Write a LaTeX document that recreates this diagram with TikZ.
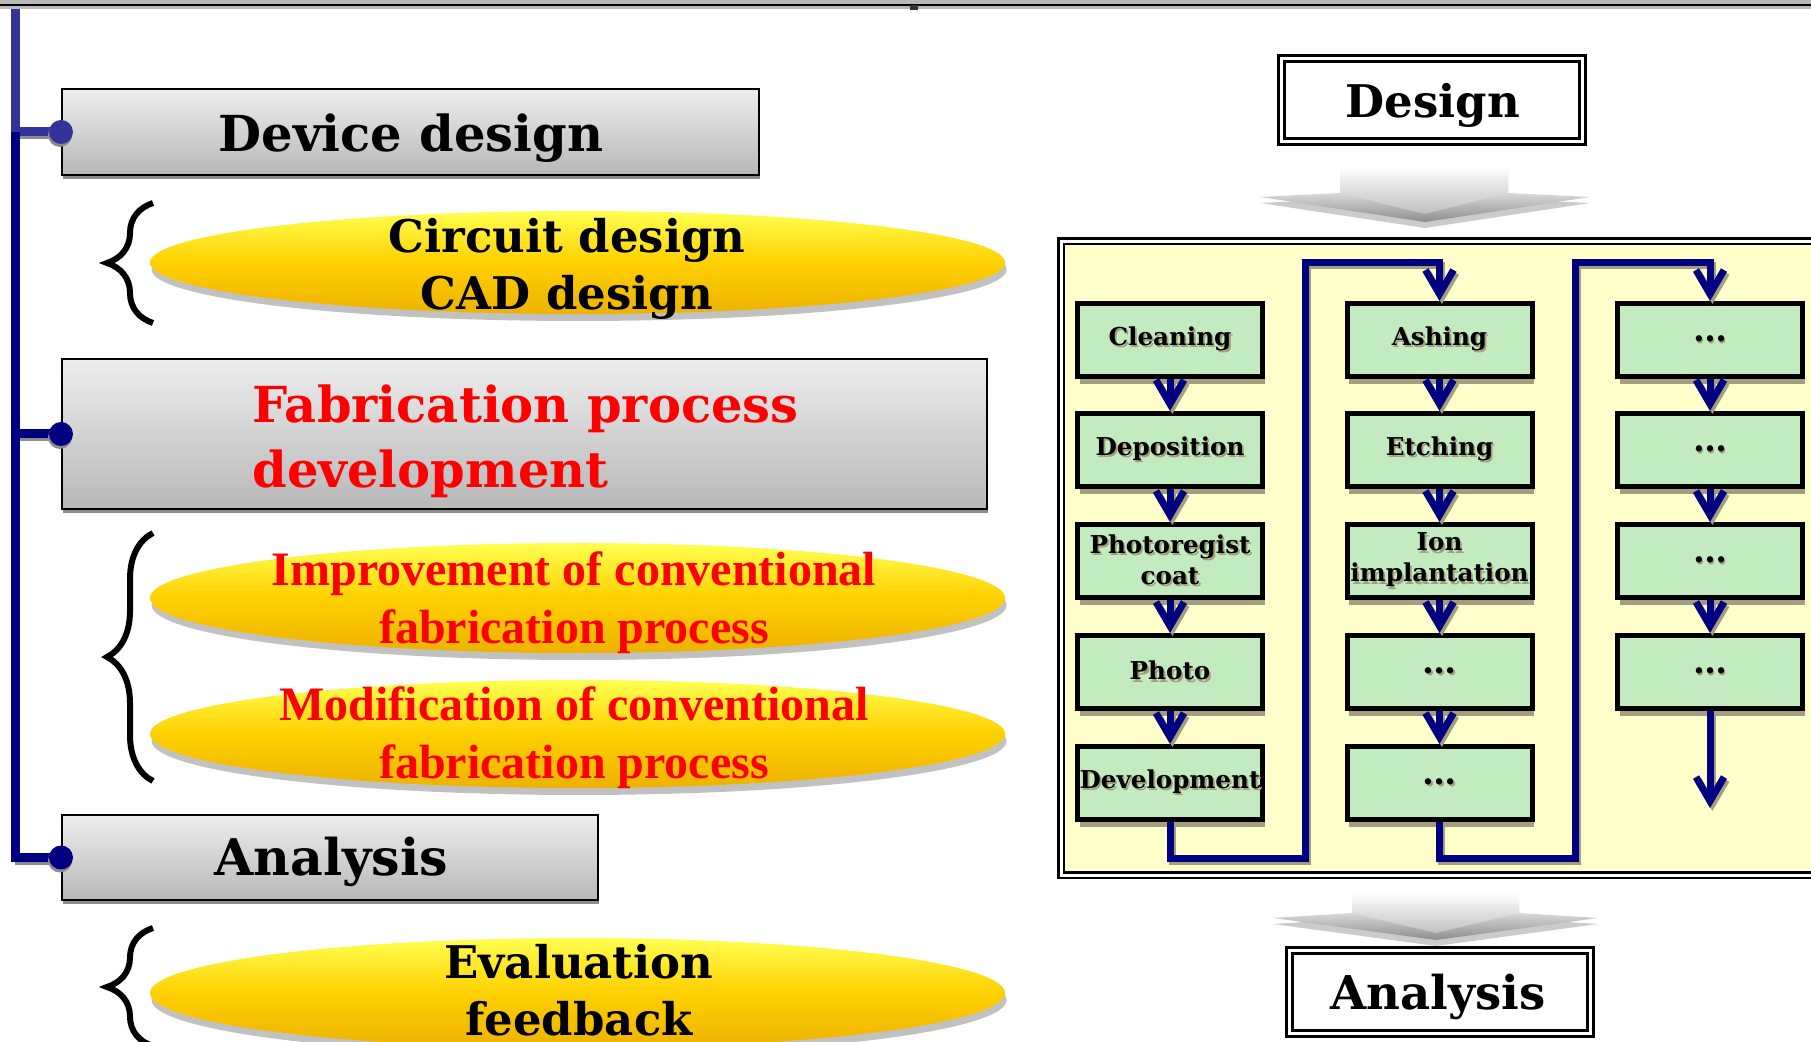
\documentclass[tikz,border=0pt]{standalone}
\usepackage{fontspec}
\setmainfont{DejaVu Serif}
\newfontfamily\timesfont{Liberation Serif}
\usetikzlibrary{arrows.meta,shadows,decorations.pathreplacing,shapes.geometric,calc}
\definecolor{navyc}{HTML}{000080}
\definecolor{bluec}{HTML}{333399}
\definecolor{panelc}{HTML}{FFFFCC}
\definecolor{greenc}{HTML}{C2EBBF}
\definecolor{olivesh}{HTML}{A39F7E}
\definecolor{redc}{HTML}{FF0000}
\definecolor{yla}{HTML}{FFFF50}
\definecolor{ylb}{HTML}{FFD000}
\definecolor{ylc}{HTML}{EDB200}
\newcommand{\txsh}[1]{\leavevmode\rlap{\kern0.9pt\raisebox{-1.2pt}{\color{olivesh}#1}}#1}
\newcommand{\mydots}{{\fontsize{17}{17}\selectfont …}}
\begin{document}
\begin{tikzpicture}[x=0.5pt,y=-0.5pt,
  graybox/.style={draw=black, line width=1pt, top color=black!7, bottom color=black!28, inner sep=0pt,
    drop shadow={shadow xshift=0.3pt, shadow yshift=-2.2pt, fill=black!45, opacity=1}},
  yellipse/.style={ellipse, draw=none, top color=yla, bottom color=ylc, middle color=ylb,
    minimum width=427.5pt, inner sep=0pt,
    drop shadow={shadow xshift=0.8pt, shadow yshift=-3.5pt, fill=black!40, opacity=.6}},
  bigtxt/.style={font=\fontsize{24.8}{32.5}\selectfont\bfseries},
  midtxt/.style={font=\fontsize{22.5}{28.5}\selectfont\bfseries},
  redtxt/.style={font=\timesfont\fontsize{24}{29}\selectfont\bfseries, text=redc},
  dbox/.style={draw=black, line width=1.5pt, double=white, double distance=1.5pt, fill=white,
    minimum width=150.5pt, minimum height=41.5pt, inner sep=0pt},
  gbox/.style={draw=black, line width=2.5pt, fill=greenc, minimum width=92.5pt, minimum height=36.5pt,
    inner sep=0pt, align=center, font=\fontsize{12.3}{15.5}\selectfont\bfseries,
    drop shadow={shadow xshift=1pt, shadow yshift=-3.6pt, fill=olivesh, opacity=1}},
  flow/.style={draw=navyc, line width=3.5pt, -{Straight Barb[length=12pt,width=14pt]}},
  flowsh/.style={draw=olivesh, line width=3.5pt, -{Straight Barb[length=12pt,width=14pt]},
    transform canvas={shift={(1.2pt,-1.5pt)}}},
  bracest/.style={draw=black, line width=3pt, decorate, decoration={brace, amplitude=23pt}},
  spine/.style={line width=4.5pt}
]
\useasboundingbox (0,0) rectangle (1811,1042);
\fill[white] (0,0) rectangle (1811,1042);
\begin{scope}
\clip (0,0) rectangle (1811,1042);

% top band
\fill[black!28] (0,0) rectangle (1811,9);
\draw[black, line width=1pt] (0,5) -- (1811,5);
\fill[black!80] (910,5) rectangle (918,10);

% left boxes
\node[graybox, minimum width=348.5pt, minimum height=43pt] (dd) at (410.5,132) {};
\node[anchor=base, bigtxt] (ddt) at (411,152) {Device design};

\node[graybox, minimum width=462.5pt, minimum height=75pt] (fb) at (524.5,434) {};
\node[anchor=west, align=left, inner sep=0pt, bigtxt, text=redc] (fbt) at (252,441) {Fabrication process\\development};

\node[graybox, minimum width=268pt, minimum height=42.5pt] (an) at (330,857.5) {};
\node[anchor=base, bigtxt, font=\fontsize{25.3}{30}\selectfont\bfseries] (ant) at (331,876) {Analysis};

% spine
\coordinate (sp) at (15,9);
\draw[spine, black!45, transform canvas={shift={(0pt,-1.5pt)}}] (sp |- dd.west) -- (dd.west);
\draw[spine, black!45, transform canvas={shift={(0pt,-1.5pt)}}] (sp |- fb.west) -- (fb.west);
\draw[spine, black!45, transform canvas={shift={(0pt,-1.5pt)}}] (sp |- an.west) -- (an.west);
\draw[spine, bluec] (sp) -- (sp |- dd.west) -- (dd.west);
\draw[spine, navyc] (sp |- dd.west) -- (sp |- an.west) -- (an.west);
\draw[spine, navyc] (sp |- fb.west) -- (fb.west);
\fill[black!45] ($(dd.west)+(-1,3)$) circle[radius=6pt];
\fill[black!45] ($(fb.west)+(-1,3)$) circle[radius=6pt];
\fill[black!45] ($(an.west)+(-1,3)$) circle[radius=6pt];
\fill[bluec] (dd.west) circle[radius=6pt];
\fill[navyc] (fb.west) circle[radius=6pt];
\fill[navyc] (an.west) circle[radius=6pt];

% ellipses
\node[yellipse, minimum height=51.5pt] (e1) at (577.5,262.5) {};
\node[midtxt, align=center, inner sep=0pt] (e1t) at (567,269) {Circuit design\\CAD design};
\node[yellipse, minimum height=55pt] (e2) at (577.5,598) {};
\node[redtxt, align=center, inner sep=0pt] (e2t) at (574,603) {Improvement of conventional\\fabrication process};
\node[yellipse, minimum height=54pt] (e3) at (577.5,734) {};
\node[redtxt, align=center, inner sep=0pt] (e3t) at (574,738) {Modification of conventional\\fabrication process};
\node[yellipse, minimum height=55pt] (e4) at (577.5,993) {};
\node[midtxt, align=center, inner sep=0pt] (e4t) at (579,990) {Evaluation\\feedback};

% braces
\coordinate (b1a) at (153,323); \coordinate (b1b) at (153,203);
\coordinate (b2a) at (153,781); \coordinate (b2b) at (153,533);
\coordinate (b3a) at (153,1046); \coordinate (b3b) at (153,928);
\draw[bracest] (b1a) -- (b1b);
\draw[bracest] (b2a) -- (b2b);
\draw[bracest] (b3a) -- (b3b);

% right: design / analysis boxes
\node[dbox] (des) at (1432,100) {};
\node[anchor=base, midtxt] (dest) at (1433,118) {Design};
\node[dbox] (ran) at (1440,991.5) {};
\node[anchor=base, midtxt, font=\fontsize{23.3}{28}\selectfont\bfseries] (rant) at (1438,1009) {Analysis};

% gray block arrows
\fill[black!40, opacity=.5, transform canvas={shift={(0pt,-3pt)}}]
  (1340,166) -- (1508,166) -- (1508,193) -- (1590,197) -- (1425,222) -- (1260,197) -- (1340,193) -- cycle;
\shade[top color=black!15, bottom color=black!45]
  (1340,193) -- (1508,193) -- (1590,197) -- (1425,222) -- (1260,197) -- cycle;
\shade[top color=white, bottom color=black!25]
  (1340,166) -- (1508,166) -- (1508,193) -- (1425,214) -- (1340,193) -- cycle;
\fill[black!40, opacity=.5, transform canvas={shift={(0pt,-3pt)}}]
  (1352,893) -- (1519,893) -- (1519,913) -- (1598,918) -- (1436,940) -- (1273,918) -- (1352,913) -- cycle;
\shade[top color=black!15, bottom color=black!45]
  (1352,913) -- (1519,913) -- (1598,918) -- (1436,940) -- (1273,918) -- cycle;
\shade[top color=white, bottom color=black!25]
  (1352,893) -- (1519,893) -- (1519,913) -- (1436,933) -- (1352,913) -- cycle;

% panel
\node[draw=black, line width=1.3pt, double=white, double distance=1.5pt, fill=panelc,
  minimum width=420pt, minimum height=317pt, inner sep=0pt, anchor=north west] (panel) at (1060,240) {};

% green boxes
\node[gbox] (c1r1) at (1170,340) {\txsh{Cleaning}};
\node[gbox] (c1r2) at (1170,450) {\txsh{Deposition}};
\node[gbox] (c1r3) at (1170,561) {\txsh{Photoregist}\\\txsh{coat}};
\node[gbox] (c1r4) at (1170,672) {\txsh{Photo}};
\node[gbox] (c1r5) at (1170,783) {\txsh{Development}};
\node[gbox] (c2r1) at (1439.5,340) {\txsh{Ashing}};
\node[gbox] (c2r2) at (1439.5,450) {\txsh{Etching}};
\node[gbox] (c2r3) at (1439.5,561) {\txsh{Ion}\\\txsh{implantation}};
\node[gbox] (c2r4) at (1439.5,672) {\txsh{\mydots}};
\node[gbox] (c2r5) at (1439.5,783) {\txsh{\mydots}};
\node[gbox] (c3r1) at (1710,340) {\txsh{\mydots}};
\node[gbox] (c3r2) at (1710,450) {\txsh{\mydots}};
\node[gbox] (c3r3) at (1710,561) {\txsh{\mydots}};
\node[gbox] (c3r4) at (1710,672) {\txsh{\mydots}};

% flow arrows
\coordinate (k1) at (1305,858); \coordinate (k1t) at (1305,263);
\coordinate (k2) at (1575,858); \coordinate (k2t) at (1575,263);
\coordinate (endc) at (1710,808);
\foreach \st in {flowsh,flow}{
  \foreach \a/\b in {c1r1/c1r2,c1r2/c1r3,c1r3/c1r4,c1r4/c1r5,c2r1/c2r2,c2r2/c2r3,c2r3/c2r4,c2r4/c2r5,c3r1/c3r2,c3r2/c3r3,c3r3/c3r4}
    \draw[\st] (\a.south) -- (\b.north);
  \draw[\st] (c1r5.south) |- (k1) -- (k1t) -| (c2r1.north);
  \draw[\st] (c2r5.south) |- (k2) -- (k2t) -| (c3r1.north);
  \draw[\st] (c3r4.south) -- (endc);
}
\end{scope}
\end{tikzpicture}
\end{document}
